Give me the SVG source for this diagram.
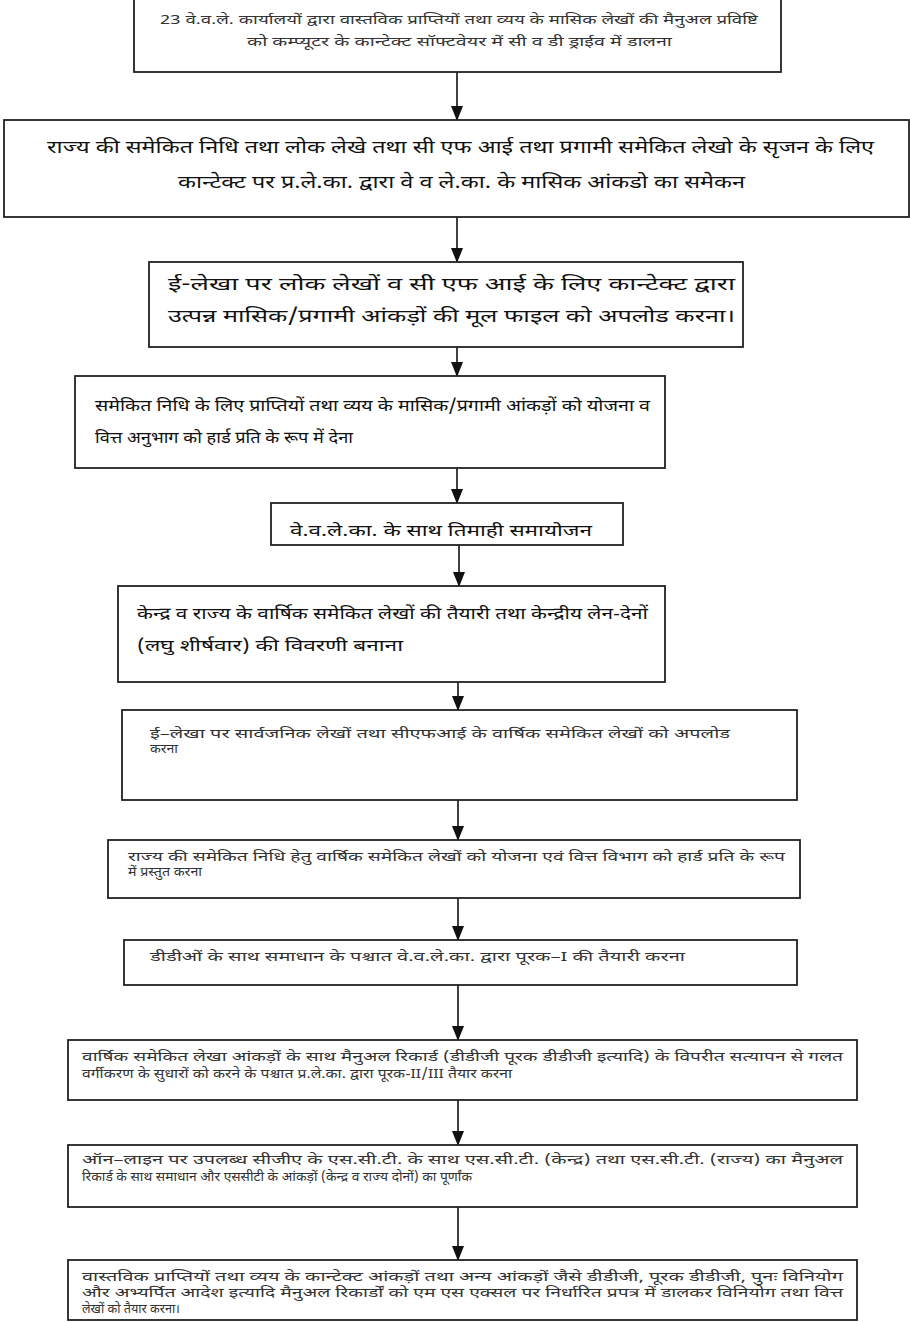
<svg xmlns="http://www.w3.org/2000/svg" width="910" height="1322" viewBox="0 0 910 1322">
<style>
.box{fill:#fff;stroke:#222;stroke-width:1.8}
.sm{font-family:"Noto Sans Devanagari","Lohit Devanagari","FreeSans","Noto Sans",sans-serif;font-size:12.5px;fill:#333}
.lg{font-family:"Noto Sans Devanagari","Lohit Devanagari","FreeSans","Noto Sans",sans-serif;font-size:18px;fill:#111}
.md{font-family:"Noto Sans Devanagari","Lohit Devanagari","FreeSans","Noto Sans",sans-serif;font-size:16.5px;fill:#111}
.conn line{stroke:#111;stroke-width:1.6}
</style>
<defs>
<marker id="ah" markerWidth="15" markerHeight="12" refX="14" refY="6" orient="auto" markerUnits="userSpaceOnUse" viewBox="0 0 15 12">
<path d="M0,0 L15,6 L0,12 Z" fill="#111"/>
</marker>
</defs>
<rect width="910" height="1322" fill="#fff"/>
<g class="conn">
<line x1="457" y1="72" x2="457" y2="120" marker-end="url(#ah)"/>
<line x1="457" y1="217" x2="457" y2="262" marker-end="url(#ah)"/>
<line x1="457" y1="347" x2="457" y2="376" marker-end="url(#ah)"/>
<line x1="457" y1="468" x2="457" y2="503" marker-end="url(#ah)"/>
<line x1="459" y1="545" x2="459" y2="586" marker-end="url(#ah)"/>
<line x1="458" y1="682" x2="458" y2="710" marker-end="url(#ah)"/>
<line x1="458" y1="800" x2="458" y2="840" marker-end="url(#ah)"/>
<line x1="458" y1="898" x2="458" y2="940" marker-end="url(#ah)"/>
<line x1="458" y1="985" x2="458" y2="1040" marker-end="url(#ah)"/>
<line x1="458" y1="1100" x2="458" y2="1145" marker-end="url(#ah)"/>
<line x1="458" y1="1207" x2="458" y2="1260" marker-end="url(#ah)"/>
</g>
<g id="n1">
<rect class="box" x="134" y="-5" width="647" height="77"/>
<text class="sm" x="160" y="24" textLength="598" lengthAdjust="spacingAndGlyphs">23 वे.व.ले. कार्यालयों द्वारा वास्तविक प्राप्तियों तथा व्यय के मासिक लेखों की मैनुअल प्रविष्टि</text>
<text class="sm" x="247" y="46" textLength="425" lengthAdjust="spacingAndGlyphs">को कम्प्यूटर के कान्टेक्ट सॉफ्टवेयर में सी व डी ड्राईव में डालना</text>
</g>
<g id="n2">
<rect class="box" x="4" y="120" width="905" height="97"/>
<text class="lg" x="47" y="153" textLength="827" lengthAdjust="spacingAndGlyphs">राज्य की समेकित निधि तथा लोक लेखे तथा सी एफ आई तथा प्रगामी समेकित लेखो के सृजन के लिए</text>
<text class="lg" x="178" y="188" textLength="567" lengthAdjust="spacingAndGlyphs">कान्टेक्ट पर प्र.ले.का. द्वारा वे व ले.का. के मासिक आंकडो का समेकन</text>
</g>
<g id="n3">
<rect class="box" x="149" y="262" width="594" height="85"/>
<text class="lg" x="168" y="290" textLength="567" lengthAdjust="spacingAndGlyphs">ई-लेखा पर लोक लेखों व सी एफ आई के लिए कान्टेक्ट द्वारा</text>
<text class="lg" x="168" y="322" textLength="567" lengthAdjust="spacingAndGlyphs">उत्पन्न मासिक/प्रगामी आंकड़ों की मूल फाइल को अपलोड करना।</text>
</g>
<g id="n4">
<rect class="box" x="75" y="376" width="590" height="92"/>
<text class="md" x="95" y="411" textLength="555" lengthAdjust="spacingAndGlyphs">समेकित निधि के लिए प्राप्तियों तथा व्यय के मासिक/प्रगामी आंकड़ों को योजना व</text>
<text class="md" x="95" y="443" textLength="258" lengthAdjust="spacingAndGlyphs">वित्त अनुभाग को हार्ड प्रति के रूप में देना</text>
</g>
<g id="n5">
<rect class="box" x="271" y="503" width="352" height="42"/>
<text class="md" x="290" y="536" textLength="302" lengthAdjust="spacingAndGlyphs">वे.व.ले.का. के साथ तिमाही समायोजन</text>
</g>
<g id="n6">
<rect class="box" x="118" y="586" width="547" height="96"/>
<text class="md" x="137" y="619" textLength="511" lengthAdjust="spacingAndGlyphs">केन्द्र व राज्य के वार्षिक समेकित लेखों की तैयारी तथा केन्द्रीय लेन-देनों</text>
<text class="md" x="137" y="651" textLength="266" lengthAdjust="spacingAndGlyphs">(लघु शीर्षवार) की विवरणी बनाना</text>
</g>
<g id="n7">
<rect class="box" x="122" y="710" width="675" height="90"/>
<text class="sm" x="150" y="738" textLength="580" lengthAdjust="spacingAndGlyphs">ई–लेखा पर सार्वजनिक लेखों तथा सीएफआई के वार्षिक समेकित लेखों को अपलोड</text>
<text class="sm" x="150" y="753" textLength="28" lengthAdjust="spacingAndGlyphs">करना</text>
</g>
<g id="n8">
<rect class="box" x="108" y="840" width="692" height="58"/>
<text class="sm" x="128" y="861" textLength="657" lengthAdjust="spacingAndGlyphs">राज्य की समेकित निधि हेतु वार्षिक समेकित लेखों को योजना एवं वित्त विभाग को हार्ड प्रति के रूप</text>
<text class="sm" x="128" y="876" textLength="74" lengthAdjust="spacingAndGlyphs">में प्रस्तुत करना</text>
</g>
<g id="n9">
<rect class="box" x="124" y="940" width="673" height="45"/>
<text class="sm" x="150" y="961" textLength="535" lengthAdjust="spacingAndGlyphs">डीडीओं के साथ समाधान के पश्चात वे.व.ले.का. द्वारा पूरक–I की तैयारी करना</text>
</g>
<g id="n10">
<rect class="box" x="68" y="1040" width="789" height="60"/>
<text class="sm" x="82" y="1061" textLength="761" lengthAdjust="spacingAndGlyphs">वार्षिक समेकित लेखा आंकड़ों के साथ मैनुअल रिकार्ड (डीडीजी पूरक डीडीजी इत्यादि) के विपरीत सत्यापन से गलत</text>
<text class="sm" x="82" y="1078" textLength="430" lengthAdjust="spacingAndGlyphs">वर्गीकरण के सुधारों को करने के पश्चात प्र.ले.का. द्वारा पूरक-II/III तैयार करना</text>
</g>
<g id="n11">
<rect class="box" x="68" y="1145" width="789" height="62"/>
<text class="sm" x="82" y="1164" textLength="761" lengthAdjust="spacingAndGlyphs">ऑन–लाइन पर उपलब्ध सीजीए के एस.सी.टी. के साथ एस.सी.टी. (केन्द्र) तथा एस.सी.टी. (राज्य) का मैनुअल</text>
<text class="sm" x="82" y="1181" textLength="390" lengthAdjust="spacingAndGlyphs">रिकार्ड के साथ समाधान और एससीटी के आंकड़ों (केन्द्र व राज्य दोनों) का पूर्णांक</text>
</g>
<g id="n12">
<rect class="box" x="68" y="1260" width="789" height="60"/>
<text class="sm" x="82" y="1281" textLength="761" lengthAdjust="spacingAndGlyphs">वास्तविक प्राप्तियों तथा व्यय के कान्टेक्ट आंकड़ों तथा अन्य आंकड़ों जैसे डीडीजी, पूरक डीडीजी, पुनः विनियोग</text>
<text class="sm" x="82" y="1297" textLength="761" lengthAdjust="spacingAndGlyphs">और अभ्यर्पित आदेश इत्यादि मैनुअल रिकार्डों को एम एस एक्सल पर निर्धारित प्रपत्र में डालकर विनियोग तथा वित्त</text>
<text class="sm" x="82" y="1313" textLength="98" lengthAdjust="spacingAndGlyphs">लेखों को तैयार करना।</text>
</g>
</svg>
